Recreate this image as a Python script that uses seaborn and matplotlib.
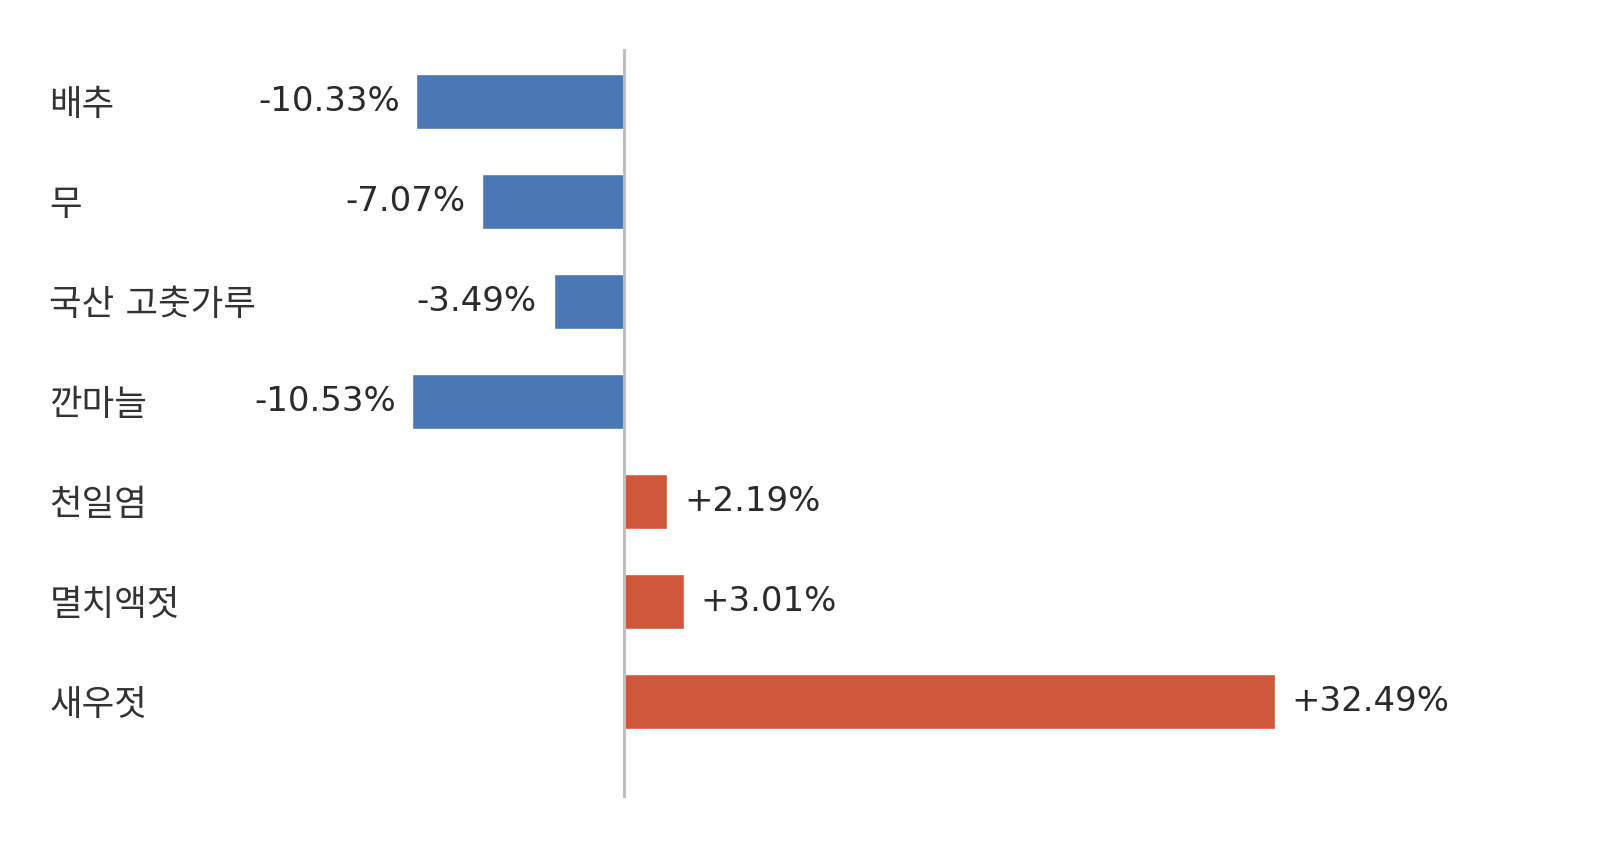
import pandas as pd
import seaborn as sns
import matplotlib.pyplot as plt

# Price change by item (%)
ITEMS = ['배추', '무', '국산 고춧가루', '깐마늘', '천일염', '멸치액젓', '새우젓']
CHANGES = [-10.33, -7.07, -3.49, -10.53, 2.19, 3.01, 32.49]

BLUE = '#4A78B5'
RED = '#CF573A'

df = pd.DataFrame({'item': ITEMS, 'change': CHANGES})
df['dir'] = ['down' if v < 0 else 'up' for v in df['change']]

sns.set_style('white')
plt.rcParams['font.family'] = ['DejaVu Sans', 'Noto Sans CJK KR']

fig = plt.figure(figsize=(16, 8.5), dpi=100)
ax = fig.add_axes([0, 52 / 850, 1, 749 / 850])

sns.barplot(data=df, x='change', y='item', hue='dir', order=ITEMS,
            palette={'down': BLUE, 'up': RED}, dodge=False, legend=False,
            width=0.55, saturation=1, ax=ax)

# zero line
ax.axvline(0, color='#bfbfbf', lw=2.2, zorder=3)

# value labels
for i, v in enumerate(CHANGES):
    txt = f'{v:+.2f}%'
    if v < 0:
        ax.annotate(txt, (v, i), xytext=(-12, 0), textcoords='offset points',
                    ha='right', va='center', fontsize=24.5, color='#2b2b2b')
    else:
        ax.annotate(txt, (v, i), xytext=(12, 0), textcoords='offset points',
                    ha='left', va='center', fontsize=24.5, color='#2b2b2b')

ax.set_xlim(-31.1, 48.7)
ax.set_ylim(6.965, -0.525)
ax.set_xlabel('')
ax.set_ylabel('')
ax.set_xticks([])
sns.despine(ax=ax, left=True, bottom=True)

# category labels left-aligned near the figure's left edge
ax.tick_params(axis='y', length=0, pad=-35.5, labelsize=25.5, labelcolor='#333333')
for lbl in ax.get_yticklabels():
    lbl.set_ha('left')

fig.savefig('out.png', dpi=100)
